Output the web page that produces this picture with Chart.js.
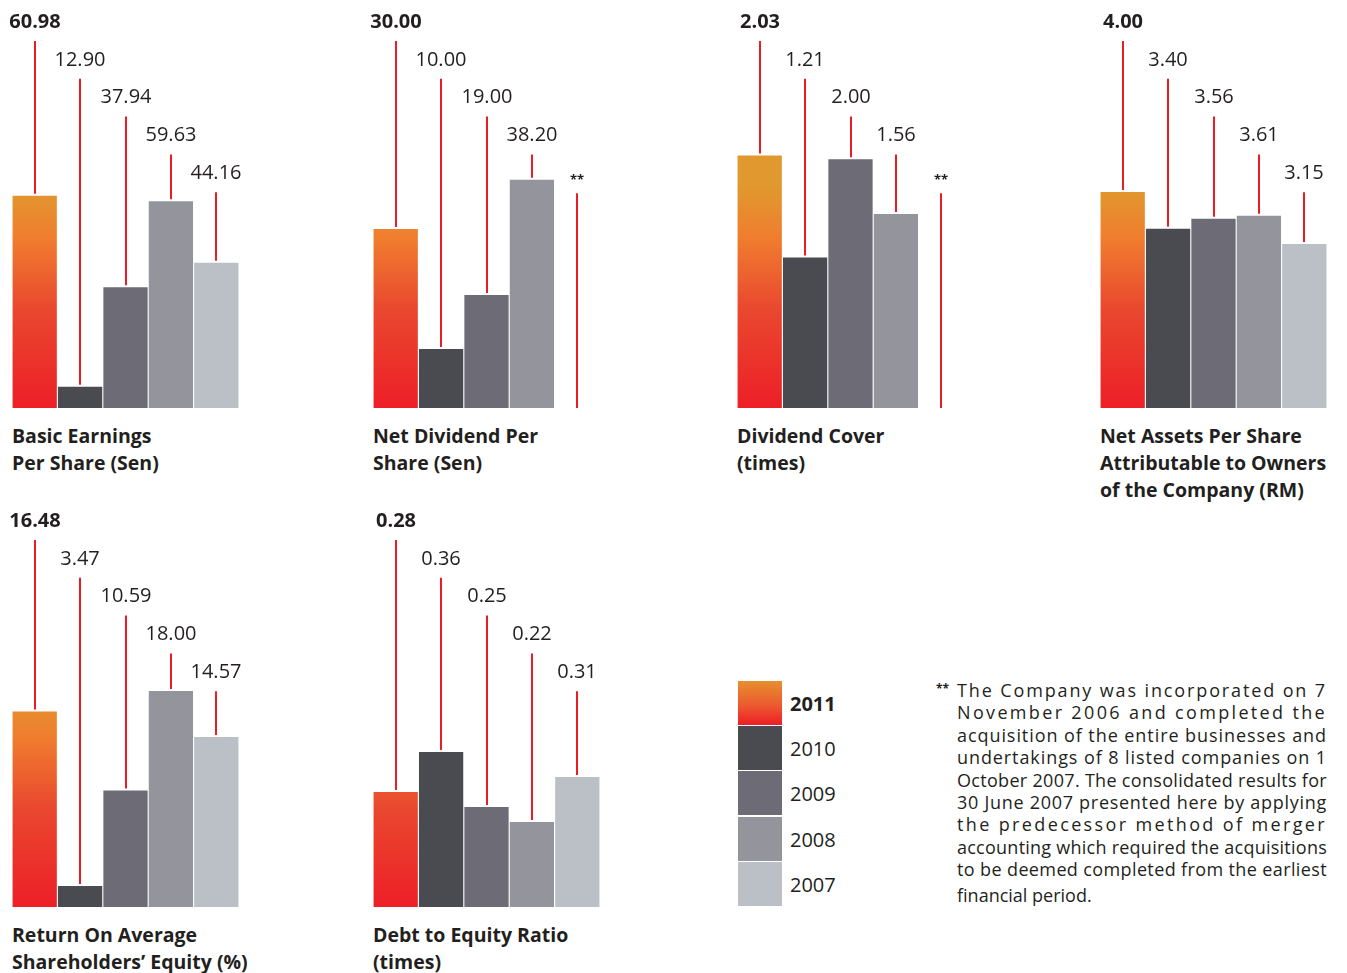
<!DOCTYPE html>
<html>
<head>
<meta charset="utf-8">
<script src="https://cdn.jsdelivr.net/npm/chart.js@4.4.0/dist/chart.umd.min.js"></script>
<style>
  body { margin: 0; background: #fff; width: 1347px; height: 973px; position: relative; overflow: hidden;
         font-family: "Open Sans", sans-serif; color: #231f20; }
  canvas { position: absolute; }
  .title { position: absolute; font-weight: 700; font-size: 19.5px; line-height: 27px; white-space: nowrap; }
  .swatch { position: absolute; left: 738px; width: 44px; height: 44px; }
  .year { position: absolute; left: 790px; font-size: 20px; line-height: 24px; }
  #note { position: absolute; left: 957px; top: 679px; width: 372px; font-size: 18px; line-height: 22.4px; }
  #note div { white-space: nowrap; }
  #note div.last { margin-top: 3px; }
  #ast { position: absolute; left: 936px; top: 680px; font-size: 12px; font-weight: 700; }
</style>
</head>
<body>
<script>
const years = ['2011', '2010', '2009', '2008', '2007'];

const basicEps      = [60.98, 12.90, 37.94, 59.63, 44.16];
const netDividend   = [30.00, 10.00, 19.00, 38.20, null];
const dividendCover = [2.03, 1.21, 2.00, 1.56, null];
const netAssets     = [4.00, 3.40, 3.56, 3.61, 3.15];
const returnOnEquity = [16.48, 3.47, 10.59, 18.00, 14.57];
const debtToEquity  = [0.28, 0.36, 0.25, 0.22, 0.31];

const greys = ['#4a4b50', '#6d6b75', '#94949c', '#bac0c6'];
const RED = '#ed1c24';
const FONT = '"Open Sans", sans-serif';
const PAD = 12; // room for labels that overhang the outer bars

const panels = [
  { data: basicEps,      min: 7.56, max: 110.3, left: 12,   top: 0,   title: ['Basic Earnings', 'Per Share (Sen)'] },
  { data: netDividend,   min: 0.17, max: 68.17, left: 373,  top: 0,   title: ['Net Dividend Per', 'Share (Sen)'] },
  { data: dividendCover, min: 0,    max: 3.28,  left: 737,  top: 0,   title: ['Dividend Cover', '(times)'] },
  { data: netAssets,     min: 0.47, max: 7.136, left: 1100, top: 0,   title: ['Net Assets Per Share', 'Attributable to Owners', 'of the Company (RM)'] },
  { data: returnOnEquity, min: 1.91, max: 32.31, left: 12,  top: 499, title: ['Return On Average', 'Shareholders\u2019 Equity (%)'] },
  { data: debtToEquity,  min: 0.05, max: 0.866, left: 373,  top: 499, title: ['Debt to Equity Ratio', '(times)'] }
];

// orange-to-red fill for the current year, anchored to the baseline
function yearGradient(ctx, bottom) {
  const g = ctx.createLinearGradient(0, bottom, 0, bottom - 220);
  g.addColorStop(0, '#ed1f27');
  g.addColorStop(0.45, '#e9482f');
  g.addColorStop(0.78, '#f07e2e');
  g.addColorStop(1, '#e0982f');
  return g;
}

// stepped value labels with red leader lines down to each bar
const leaderLabels = {
  id: 'leaderLabels',
  afterDatasetsDraw(chart) {
    const ctx = chart.ctx;
    const meta = chart.getDatasetMeta(0);
    const values = chart.data.datasets[0].data;
    const bottom = chart.chartArea.bottom;
    ctx.save();
    ctx.textAlign = 'center';
    ctx.textBaseline = 'middle';
    ctx.strokeStyle = RED;
    ctx.lineWidth = 2;
    values.forEach((v, i) => {
      const x = Math.round(chart.scales.x.getPixelForValue(i));
      const labelY = 22 + 37.8 * i;
      let lineTop, lineBottom;
      if (v === null) {
        ctx.font = 'bold 13px ' + FONT;
        ctx.fillStyle = '#231f20';
        ctx.fillText('**', x, labelY + 7);
        lineTop = labelY + 20;
        lineBottom = bottom;
      } else {
        ctx.font = (i === 0 ? 'bold ' : '') + '20px ' + FONT;
        ctx.fillStyle = '#231f20';
        ctx.fillText(v.toFixed(2), x, labelY);
        lineTop = labelY + 19;
        lineBottom = meta.data[i].y - 2;
      }
      ctx.beginPath();
      ctx.moveTo(x, lineTop);
      ctx.lineTo(x, lineBottom);
      ctx.stroke();
    });
    ctx.restore();
  }
};

panels.forEach(p => {
  const canvas = document.createElement('canvas');
  canvas.width = 227 + 2 * PAD;
  canvas.height = 408;
  canvas.style.left = (p.left - PAD) + 'px';
  canvas.style.top = p.top + 'px';
  document.body.appendChild(canvas);

  new Chart(canvas, {
    type: 'bar',
    data: {
      labels: years,
      datasets: [{
        data: p.data,
        backgroundColor: c => {
          const area = c.chart.chartArea;
          if (!area) return greys[0];
          return c.dataIndex === 0 ? yearGradient(c.chart.ctx, area.bottom) : greys[c.dataIndex - 1];
        },
        borderWidth: 0,
        categoryPercentage: 1,
        barPercentage: 0.975
      }]
    },
    options: {
      responsive: false,
      animation: false,
      layout: { padding: { left: PAD, right: PAD, top: 0, bottom: 0 } },
      plugins: { legend: { display: false }, tooltip: { enabled: false } },
      scales: {
        x: { display: false },
        y: { display: false, min: p.min, max: p.max }
      }
    },
    plugins: [leaderLabels]
  });

  const t = document.createElement('div');
  t.className = 'title';
  t.style.left = p.left + 'px';
  t.style.top = (p.top + 422) + 'px';
  t.innerHTML = p.title.join('<br>');
  document.body.appendChild(t);
});

// legend swatches
const legendTops = [681, 726, 771, 817, 862];
legendTops.forEach((top, i) => {
  const s = document.createElement('div');
  s.className = 'swatch';
  s.style.top = top + 'px';
  s.style.background = i === 0 ? 'linear-gradient(#e6902e, #ec5a2f 55%, #ed1f27)' : greys[i - 1];
  document.body.appendChild(s);
  const y = document.createElement('div');
  y.className = 'year';
  y.style.top = (top + 11) + 'px';
  if (i === 0) y.style.fontWeight = '700';
  y.textContent = years[i];
  document.body.appendChild(y);
});
</script>
<div id="ast">**</div>
<div id="note">
  <div>The Company was incorporated on 7</div>
  <div>November 2006 and completed the</div>
  <div>acquisition of the entire businesses and</div>
  <div>undertakings of 8 listed companies on 1</div>
  <div>October 2007. The consolidated results for</div>
  <div>30 June 2007 presented here by applying</div>
  <div>the predecessor method of merger</div>
  <div>accounting which required the acquisitions</div>
  <div>to be deemed completed from the earliest</div>
  <div class="last">financial period.</div>
</div>
<script>
// spread each footnote line (except the last) across the column with letter spacing
const noteWidth = 370;
document.querySelectorAll('#note div:not(.last)').forEach(line => {
  const span = document.createElement('span');
  span.textContent = line.textContent;
  line.textContent = '';
  line.appendChild(span);
  const w = span.getBoundingClientRect().width;
  const n = span.textContent.length;
  span.style.letterSpacing = ((noteWidth - w) / n) + 'px';
});
</script>
</body>
</html>
